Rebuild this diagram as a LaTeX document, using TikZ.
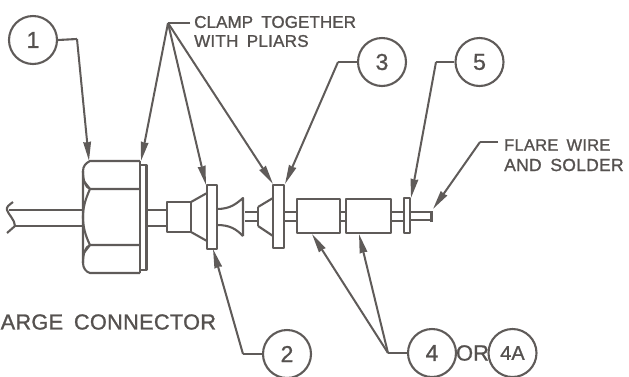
\documentclass[tikz,border=0pt]{standalone}
\usepackage{fontspec}
\usetikzlibrary{arrows.meta}
\setmainfont{Liberation Sans}[FakeBold=1]
\newfontfamily\cadfont[LetterSpace=1.5,WordSpace=1.7,FakeBold=1.2]{Liberation Sans}
\newfontfamily\cadtight[LetterSpace=0.5,WordSpace=1.7,FakeBold=1.2]{Liberation Sans}
\definecolor{ink}{HTML}{5F5B59}
\definecolor{inktext}{HTML}{55514F}
\tikzset{
  part/.style={draw=ink,line width=2.1pt,line join=round},
  lead/.style={draw=ink,line width=2.1pt,line join=round},
  tip/.style={-{Stealth[length=19pt,width=7.5pt,inset=0.5pt]},draw=ink,line width=2pt},
  balloon/.style={circle,draw=ink,line width=2.1pt,minimum size=48pt,inner sep=0pt,text=inktext,font=\fontsize{23}{23}\selectfont},
  note/.style={text=inktext,anchor=west,inner sep=0pt,font=\cadfont\fontsize{17.5}{17.5}\selectfont},
}
\begin{document}
\begin{tikzpicture}[x=1pt,y=-1pt]
\useasboundingbox (0,0) rectangle (629,376);
% wire and break
\draw[part] (83,210) -- (9,210);
\draw[part] (83,226) -- (15,226);
\draw[part] (13,202) .. controls (9,205) and (6,207) .. (7,210) .. controls (8,214) and (15,220) .. (15,226) -- (7,233);
% nut
\draw[part] (140,161) -- (90,161) .. controls (86,163) and (83,166) .. (83,171) -- (83,263) .. controls (83,268) and (86,272) .. (90,273) -- (140,273);
\draw[part] (83,171) .. controls (83,180) and (85,187) .. (90,189) -- (140,189);
\draw[part] (83,263) .. controls (83,254) and (85,247) .. (90,245) -- (140,245);
\draw[part] (90,189) .. controls (85,200) and (83,208) .. (83,217) .. controls (83,226) and (85,235) .. (90,245);
\draw[part] (83,180) -- (90,189);
\draw[part] (83,254) -- (90,245);
% flange
\draw[part] (140,161) -- (140,273);
\draw[part] (140,165) -- (146.5,165) -- (146.5,270) -- (140,270);
% shaft to block
\draw[part] (147,210) -- (167,210);
\draw[part] (147,226) -- (167,226);
\draw[part] (167,202) rectangle (191,232);
\draw[part] (191,202) -- (207,193);
\draw[part] (191,232) -- (207,241);
\draw[part] (207,185) rectangle (217,249);
% bell
\draw[part] (217,209) .. controls (230,209) and (236,204) .. (243,198) -- (243,236);
\draw[part] (217,225) .. controls (230,225) and (236,229) .. (243,236);
\draw[part] (245,212) -- (258,212);
\draw[part] (245,221) -- (258,221);
\draw[part] (258,207) -- (258,226);
\draw[part] (258,207) -- (273,198);
\draw[part] (258,226) -- (273,236);
\draw[part] (273,185) rectangle (284,248);
\draw[part] (284,212) -- (297,212);
\draw[part] (284,221) -- (297,221);
\draw[part] (297,199) rectangle (340,233);
\draw[part] (340,212) -- (346,212);
\draw[part] (340,221) -- (346,221);
\draw[part] (346,199) rectangle (391,233);
\draw[part] (391,212) -- (404,212);
\draw[part] (391,221) -- (404,221);
\draw[part] (404,198) rectangle (410,233);
\draw[part] (410,212) -- (431,212);
\draw[part] (410,220) -- (431,220);
\draw[part,line width=3pt] (431,211) -- (431,222);
% balloons
\node[balloon] (b1) at (33,40) {1};
\node[balloon] (b2) at (287,354) {2};
\node[balloon] (b3) at (382,62) {3};
\node[balloon] (b4) at (432,353) {4};
\node[balloon] (b4a) at (512.5,353) {\fontsize{20}{20}\selectfont 4A};
\node[balloon] (b5) at (479.5,62) {5};
\node[text=inktext,inner sep=0pt,font=\fontsize{22}{22}\selectfont] (or) at (472.5,353) {OR};
% notes
\node[note,font=\cadtight\fontsize{17}{17}\selectfont] (clamp) at (194,22) {CLAMP TOGETHER};
\node[note,font=\cadfont\fontsize{17}{17}\selectfont] (pliars) at (194,41) {WITH PLIARS};
\node[note,font=\cadfont\fontsize{16.5}{16.5}\selectfont] (flare) at (504,145) {FLARE WIRE};
\node[note] (solder) at (504,165) {AND SOLDER};
\node[note,font=\cadfont\fontsize{21.7}{21.7}\selectfont] (large) at (0.5,322) {ARGE CONNECTOR};
% leader junctions and tips
\coordinate (j1) at (77,39);
\coordinate (j2) at (243,354);
\coordinate (j3) at (338,62);
\coordinate (j4) at (388,353);
\coordinate (j5) at (436,62);
\coordinate (jc) at (168,23);
\coordinate (jf) at (480,142);
\coordinate (t1) at (89,161);
\coordinate (t2) at (213,249);
\coordinate (t3) at (285,184);
\coordinate (t4a) at (312,234);
\coordinate (t4b) at (359,234);
\coordinate (t5) at (411,198);
\coordinate (tca) at (141,161);
\coordinate (tcb) at (206,185);
\coordinate (tcc) at (273,184);
\coordinate (tf) at (433,209);
% connectors
\draw[lead] (b1.east) -- (j1);
\draw[tip] (j1) -- (t1);
\draw[lead] (b2.west) -- (j2);
\draw[tip] (j2) -- (t2);
\draw[lead] (b3.west) -- (j3);
\draw[tip] (j3) -- (t3);
\draw[lead] (b4.west) -- (j4);
\draw[tip] (j4) -- (t4a);
\draw[tip] (j4) -- (t4b);
\draw[lead] (b5.west) -- (j5);
\draw[tip] (j5) -- (t5);
\draw[lead] (clamp.west) ++(-4,1) -- (jc);
\draw[tip] (jc) -- (tca);
\draw[tip] (jc) -- (tcb);
\draw[tip] (jc) -- (tcc);
\draw[lead] (flare.west) ++(-6,-3) -- (jf);
\draw[tip] (jf) -- (tf);
\end{tikzpicture}
\end{document}
